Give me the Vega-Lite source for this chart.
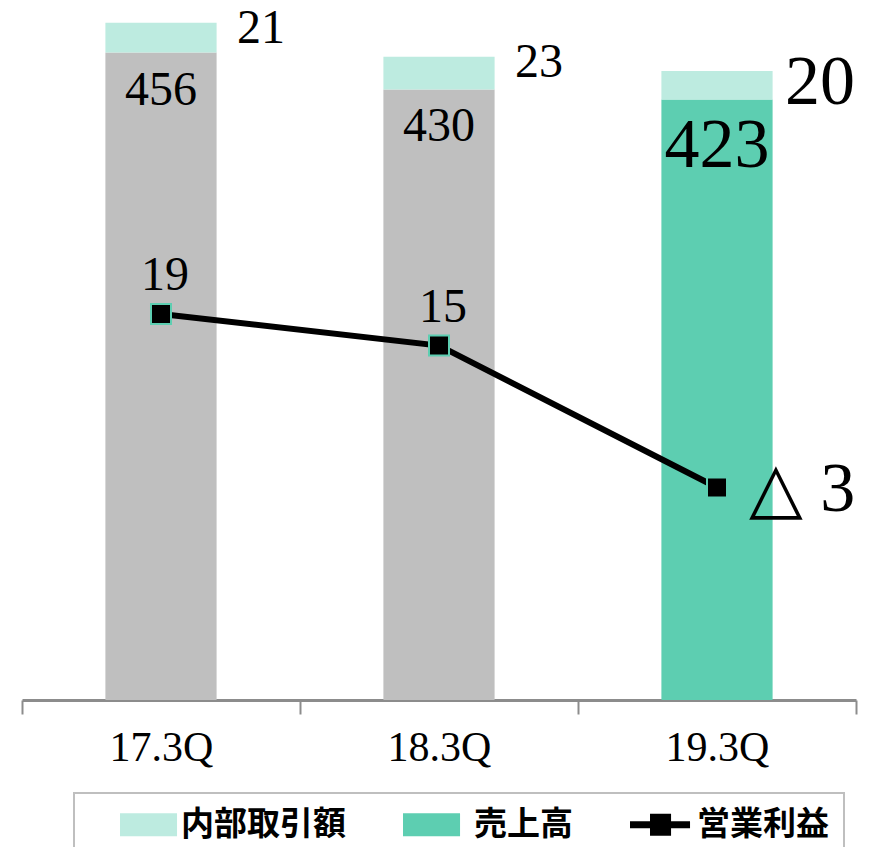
{
  "$schema": "https://vega.github.io/schema/vega-lite/v6.json",
  "width": 834,
  "height": 700,
  "autosize": {"type": "none"},
  "padding": {"left": 22, "top": 0, "right": 23, "bottom": 147},
  "background": "white",
  "config": {
    "view": {"stroke": null},
    "text": {"font": "Liberation Serif", "color": "#000000"}
  },
  "datasets": {
    "bars": [
      {"q": "17.3Q", "series": "売上高", "value": 456},
      {"q": "17.3Q", "series": "内部取引額", "value": 21},
      {"q": "18.3Q", "series": "売上高", "value": 430},
      {"q": "18.3Q", "series": "内部取引額", "value": 23},
      {"q": "19.3Q", "series": "売上高", "value": 423},
      {"q": "19.3Q", "series": "内部取引額", "value": 20}
    ],
    "profit": [
      {"q": "17.3Q", "profit": 19, "label": "19"},
      {"q": "18.3Q", "profit": 15, "label": "15"},
      {"q": "19.3Q", "profit": -3, "label": "△ 3"}
    ]
  },
  "encoding": {
    "x": {
      "field": "q",
      "type": "nominal",
      "sort": ["17.3Q", "18.3Q", "19.3Q"],
      "scale": {"paddingInner": 0, "paddingOuter": 0},
      "axis": {
        "title": null,
        "labelAngle": 0,
        "tickBand": "extent",
        "domainColor": "#8C8C8C",
        "domainWidth": 3,
        "tickColor": "#8C8C8C",
        "tickWidth": 2,
        "tickSize": 14,
        "labelFont": "Liberation Serif",
        "labelFontSize": 42,
        "labelColor": "#000000",
        "labelPadding": 13
      }
    }
  },
  "layer": [
    {
      "data": {"name": "bars"},
      "layer": [
        {
          "mark": {"type": "bar", "width": {"band": 0.4}},
          "encoding": {
            "y": {"field": "value", "type": "quantitative", "stack": "zero", "scale": {"domain": [0, 493], "nice": false, "zero": true}, "axis": null},
            "order": {"field": "series", "type": "nominal", "sort": "descending"},
            "fill": {
              "field": "series",
              "type": "nominal",
              "scale": {"domain": ["内部取引額", "売上高", "営業利益"], "range": ["#BDEBE0", "#5DCEB1", "#000000"]},
              "condition": {"test": "datum.series === '売上高' && datum.q !== '19.3Q'", "value": "#BFBFBF"},
              "legend": {
                "orient": "none",
                "legendX": 52,
                "legendY": 793,
                "direction": "horizontal",
                "columns": 3,
                "title": " ",
                "titleOrient": "left",
                "titleFontSize": 1,
                "titlePadding": 26,
                "padding": 15,
                "strokeColor": "#BFBFBF",
                "symbolSize": 529,
                "symbolStrokeWidth": 0,
                "symbolOpacity": 1,
                "labelFont": "Noto Sans CJK JP",
                "labelFontSize": 33,
                "labelFontWeight": "bold",
                "labelColor": "#000000",
                "labelOffset": 33,
                "labelLimit": 200,
                "columnPadding": 52,
                "labelExpr": "datum.label === '内部取引額' ? datum.label + ' ' : datum.label === '営業利益' ? datum.label + '    ' : datum.label",
                "encode": {
                  "symbols": {"update": {"shape": {"signal": "datum.value === '営業利益' ? 'M-1,-0.3H4.22V0.3H-1Z M0.74,-0.96H2.57V0.96H0.74Z' : 'M-1,-1H3.96V1H-1Z'"}}},
                  "labels": {"update": {"dx": {"signal": "datum.value === '売上高' ? 10 : datum.value === '営業利益' ? 6 : 0"}}},
                  "legend": {"update": {"strokeWidth": {"value": 2}}}
                }
              }
            }
          }
        },
        {
          "transform": [{"filter": "datum.series === '売上高' && datum.q !== '19.3Q'"}],
          "mark": {"type": "text", "fontSize": 48, "baseline": "alphabetic", "dy": 52},
          "encoding": {
            "y": {"field": "value", "type": "quantitative"},
            "text": {"field": "value", "type": "quantitative"}
          }
        },
        {
          "transform": [{"filter": "datum.series === '売上高' && datum.q === '19.3Q'"}],
          "mark": {"type": "text", "fontSize": 70, "baseline": "alphabetic", "dy": 68},
          "encoding": {
            "y": {"field": "value", "type": "quantitative"},
            "text": {"field": "value", "type": "quantitative"}
          }
        },
        {
          "transform": [
            {"joinaggregate": [{"op": "sum", "field": "value", "as": "total"}], "groupby": ["q"]},
            {"filter": "datum.series === '内部取引額' && datum.q !== '19.3Q'"}
          ],
          "mark": {"type": "text", "fontSize": 48, "align": "left", "baseline": "alphabetic", "dx": 76, "dy": 20},
          "encoding": {
            "y": {"field": "total", "type": "quantitative"},
            "text": {"field": "value", "type": "quantitative"}
          }
        },
        {
          "transform": [
            {"joinaggregate": [{"op": "sum", "field": "value", "as": "total"}], "groupby": ["q"]},
            {"filter": "datum.series === '内部取引額' && datum.q === '19.3Q'"}
          ],
          "mark": {"type": "text", "fontSize": 70, "align": "left", "baseline": "alphabetic", "dx": 68, "dy": 33},
          "encoding": {
            "y": {"field": "total", "type": "quantitative"},
            "text": {"field": "value", "type": "quantitative"}
          }
        }
      ]
    },
    {
      "data": {"name": "profit"},
      "encoding": {
        "y": {"field": "profit", "type": "quantitative", "scale": {"domain": [-29.95, 58.82], "nice": false, "zero": false}, "axis": null}
      },
      "layer": [
        {"mark": {"type": "line", "color": "#000000", "strokeWidth": 6}},
        {"mark": {"type": "point", "shape": "square", "filled": true, "size": 400, "fill": "#000000", "stroke": "#5DCEB1", "strokeWidth": 2, "opacity": 1}},
        {
          "transform": [{"filter": "datum.profit >= 0"}],
          "mark": {"type": "text", "fontSize": 48, "baseline": "alphabetic", "dx": 4, "dy": -24},
          "encoding": {"text": {"field": "label", "type": "nominal"}}
        },
        {
          "transform": [{"filter": "datum.profit < 0"}],
          "mark": {"type": "text", "font": "Liberation Serif, DejaVu Sans", "fontSize": 70, "align": "left", "baseline": "alphabetic", "dx": 32, "dy": 24},
          "encoding": {"text": {"field": "label", "type": "nominal"}}
        }
      ]
    }
  ],
  "resolve": {"scale": {"y": "independent"}}
}
